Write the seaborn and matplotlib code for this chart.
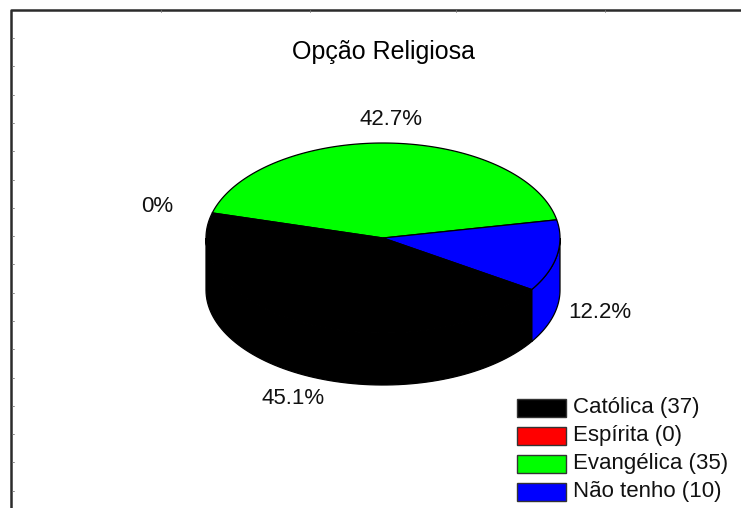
import numpy as np
import matplotlib
matplotlib.use("Agg")
import matplotlib.pyplot as plt
import seaborn as sns
from matplotlib.patches import Polygon, Rectangle

# Dados do grafico
categorias = ["Católica", "Espírita", "Evangélica", "Não tenho"]
contagens = [37, 0, 35, 10]
titulo = "Opção Religiosa"

# Configuracoes
sns.set_theme(style="white")
plt.rcParams['font.family'] = ['Liberation Sans', 'DejaVu Sans']
cores = sns.color_palette(["#000000", "#FF0000", "#00FF00", "#0000FF"])

fig = plt.figure(figsize=(7.41, 5.08), dpi=100)
ax = fig.add_axes([0, 0, 1, 1])
ax.set_xlim(0, 741)
ax.set_ylim(508, 0)
ax.axis("off")

# moldura (recorte da planilha)
ax.plot([11, 11, 741], [508, 10, 10], color="#2b2b2b", lw=1.8, solid_capstyle="butt")
for yt in np.arange(38, 508, 28.3):
    ax.plot([12, 13.5], [yt, yt], color="#777777", lw=0.6)
for xt in [161, 310, 456, 605]:
    ax.plot([xt, xt], [10, 11.5], color="#777777", lw=0.6)

ax.text(383, 52, titulo, fontsize=18, ha="center", va="center", color="black")

# geometria da pizza 3D
cx, cy, a, b, h = 383, 238, 177, 95, 52
inicio = 164.7
ordem = [1, 2, 3, 0]  # sentido horario a partir do inicio
total = sum(contagens)

def ponto(t, dy=0):
    r = np.radians(t)
    return cx + a * np.cos(r), cy - b * np.sin(r) + dy

fatias = []
t1 = inicio
for i in ordem:
    t2 = t1 - 360 * contagens[i] / total
    fatias.append((i, t2, t1))
    t1 = t2

# laterais (parte da frente)
for i, lo, hi in fatias:
    for k in range(-2, 2):
        vlo, vhi = max(lo, -180 + 360 * k), min(hi, 360 * k)
        if vhi - vlo <= 0:
            continue
        ts = np.linspace(vlo, vhi, 80)
        topo = [ponto(t) for t in ts]
        base = [ponto(t, h) for t in ts[::-1]]
        ax.add_patch(Polygon(topo + base, closed=True, facecolor=cores[i],
                             edgecolor="black", lw=0.9))

# topo
for i, lo, hi in fatias:
    if hi - lo <= 0:
        continue
    ts = np.linspace(lo, hi, 150)
    pts = [(cx, cy)] + [ponto(t) for t in ts]
    ax.add_patch(Polygon(pts, closed=True, facecolor=cores[i],
                         edgecolor="black", lw=0.9))

# rotulos de porcentagem
for i, lo, hi in fatias:
    p = 100 * contagens[i] / total
    txt = "0%" if p == 0 else f"{p:.1f}%"
    m = np.radians((lo + hi) / 2)
    x = cx + 1.25 * a * np.cos(m) + (-12 if np.cos(m) < -0.9 else 0)
    y = cy - 1.25 * b * np.sin(m) + (h if np.sin(m) < -1e-9 else 0)
    ax.text(x, y, txt, fontsize=16, ha="center", va="center", color="#111111")

# legenda
for k, (cat, n) in enumerate(zip(categorias, contagens)):
    y0 = 399 + 28 * k
    ax.add_patch(Rectangle((517, y0), 49, 18, facecolor=cores[k],
                           edgecolor="#333333", lw=1))
    ax.text(573, y0 + 9, f"{cat} ({n})", fontsize=16, ha="left", va="center",
            color="#111111")

fig.savefig("out.png", dpi=100)
